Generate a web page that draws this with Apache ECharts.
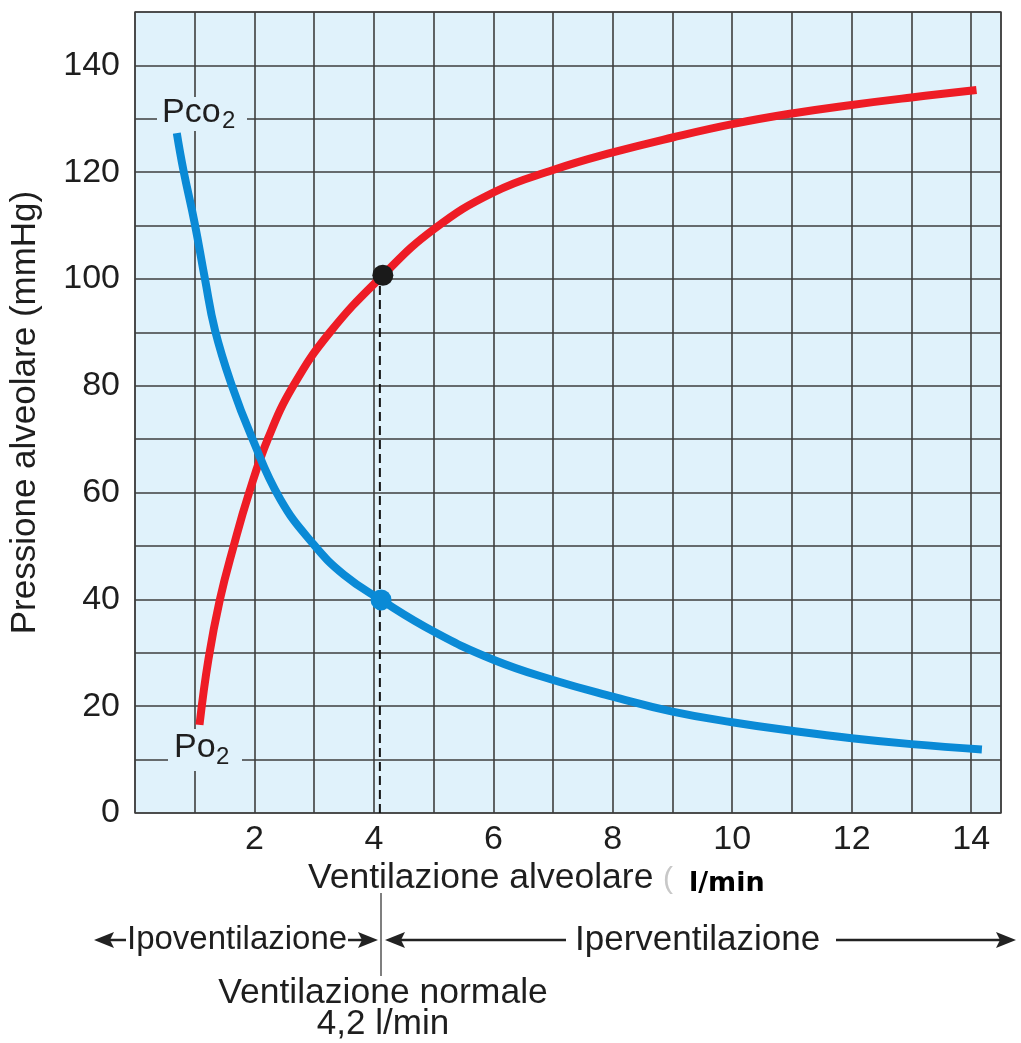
<!DOCTYPE html>
<html>
<head>
<meta charset="utf-8">
<script src="https://cdn.jsdelivr.net/npm/echarts@6/dist/echarts.min.js"></script>
<style>
  html, body { margin: 0; padding: 0; background: #fff; }
  #chart { width: 1021px; height: 1043px; }
</style>
</head>
<body>
<div id="chart"></div>
<script>
// ventilazione alveolare (l/min) -> Po2 (mmHg), curva rossa
const po2Vent = [1.08, 1.23, 1.42, 1.65, 1.90, 2.23, 2.65, 3.27, 4.15, 5.0, 6.0, 7.0, 8.0, 9.0, 10.0, 11.0, 12.0, 13.0, 14.09];
const po2Vals = [16.5, 28.8, 39.9, 49.9, 59.6, 70.2, 80.0, 90.1, 100.7, 109.3, 116.2, 120.4, 123.7, 126.5, 129.0, 131.0, 132.6, 134.0, 135.4];

// Pco2 (mmHg), curva blu
const pco2Vent = [0.70, 0.81, 1.00, 1.17, 1.34, 1.62, 1.95, 2.43, 2.99, 3.5, 4.12, 5.0, 6.0, 7.0, 8.0, 9.0, 10.0, 11.0, 12.0, 13.0, 14.18];
const pco2Vals = [127.3, 120.4, 110.4, 100.1, 90.4, 80.1, 70.5, 58.8, 50.3, 44.6, 39.9, 34.0, 28.7, 24.9, 21.8, 19.0, 17.0, 15.4, 14.0, 12.9, 11.9];

// ventilazione normale
const normalVent = [4.15, 4.12];
const normalPress = [100.7, 39.9];
const dashedVent = 4.1;

const xTickLabels = [2, 4, 6, 8, 10, 12, 14];
const yTickLabels = [0, 20, 40, 60, 80, 100, 120, 140];

const FONT = '"Liberation Sans", Arial, sans-serif';
const TXT = '#1e1e1e';
const BG = '#e0f2fb';

var myChart = echarts.init(document.getElementById('chart'));

const toPairs = (xs, ys) => xs.map((x, i) => [x, ys[i]]);

myChart.setOption({
  animation: false,
  grid: {
    left: 135, right: 20, top: 12, bottom: 230,
    show: true,
    backgroundColor: BG,
    borderColor: '#555',
    borderWidth: 1.5
  },
  xAxis: {
    type: 'value',
    min: 0, max: 14.5, interval: 1,
    axisLine: { show: false },
    axisTick: { show: false },
    splitLine: { show: true, lineStyle: { color: '#3e3e3e', width: 1.6 } },
    axisLabel: {
      margin: 10,
      fontFamily: FONT, fontSize: 34, color: TXT,
      formatter: v => xTickLabels.includes(v) ? String(v) : ''
    }
  },
  yAxis: {
    type: 'value',
    min: 0, max: 150, interval: 10,
    name: 'Pressione alveolare (mmHg)',
    nameLocation: 'middle',
    nameGap: 92,
    nameRotate: 90,
    nameTextStyle: { fontFamily: FONT, fontSize: 35, color: TXT },
    axisLine: { show: false },
    axisTick: { show: false },
    splitLine: { show: true, lineStyle: { color: '#3e3e3e', width: 1.6 } },
    axisLabel: {
      margin: 15,
      fontFamily: FONT, fontSize: 34, color: TXT,
      formatter: v => yTickLabels.includes(v) ? String(v) : ''
    }
  },
  series: [
    {
      type: 'line',
      data: [[dashedVent, 0], [dashedVent, normalPress[0]]],
      symbol: 'none',
      lineStyle: { color: '#111', width: 2, type: [9, 5] },
      z: 3
    },
    {
      name: 'Po2',
      type: 'line',
      data: toPairs(po2Vent, po2Vals),
      smooth: 0.45,
      symbol: 'none',
      lineStyle: { color: '#ee1c25', width: 8, cap: 'butt' },
      z: 4
    },
    {
      name: 'Pco2',
      type: 'line',
      data: toPairs(pco2Vent, pco2Vals),
      smooth: 0.45,
      symbol: 'none',
      lineStyle: { color: '#0a8ad6', width: 8, cap: 'butt' },
      z: 4
    },
    {
      type: 'scatter',
      data: [
        { value: [normalVent[0], normalPress[0]], itemStyle: { color: '#1a1a1a', opacity: 1 } },
        { value: [normalVent[1], normalPress[1]], itemStyle: { color: '#0a8ad6', opacity: 1 } }
      ],
      symbolSize: 21,
      z: 5
    }
  ],
  graphic: [
    // etichette delle curve
    { type: 'rect', shape: { x: 157, y: 97, width: 90, height: 34 }, style: { fill: BG }, z: 10 },
    { type: 'text', x: 162, y: 113, style: { text: 'Pco', font: '34px ' + FONT, fill: TXT, textVerticalAlign: 'middle' }, z: 11 },
    { type: 'text', x: 222, y: 121, style: { text: '2', font: '24px ' + FONT, fill: TXT, textVerticalAlign: 'middle' }, z: 11 },
    { type: 'rect', shape: { x: 168, y: 729, width: 74, height: 42 }, style: { fill: BG }, z: 10 },
    { type: 'text', x: 174, y: 748, style: { text: 'Po', font: '34px ' + FONT, fill: TXT, textVerticalAlign: 'middle' }, z: 11 },
    { type: 'text', x: 216, y: 757, style: { text: '2', font: '24px ' + FONT, fill: TXT, textVerticalAlign: 'middle' }, z: 11 },

    // titolo asse x
    { type: 'text', x: 308, y: 878, style: { text: 'Ventilazione alveolare', font: '35.5px ' + FONT, fill: TXT, textVerticalAlign: 'middle' } },
    { type: 'text', x: 663, y: 880, style: { text: '(', font: '30px ' + FONT, fill: '#c8c8c8', textVerticalAlign: 'middle' } },
    { type: 'text', x: 689, y: 884, style: { text: 'l/min', font: 'bold 27px "DejaVu Sans", sans-serif', fill: '#000', textVerticalAlign: 'middle' } },

    // separatore ventilazione normale
    { type: 'line', shape: { x1: 381, y1: 893, x2: 381, y2: 976 }, style: { stroke: '#555', lineWidth: 1.5 } },

    // ipoventilazione
    { type: 'line', shape: { x1: 100, y1: 940, x2: 126, y2: 940 }, style: { stroke: '#222', lineWidth: 2.5 } },
    { type: 'polygon', shape: { points: [[94, 940], [114, 932], [110, 940], [114, 948]] }, style: { fill: '#222' } },
    { type: 'text', x: 127, y: 940, style: { text: 'Ipoventilazione', font: '33px ' + FONT, fill: TXT, textVerticalAlign: 'middle' } },
    { type: 'line', shape: { x1: 348, y1: 940, x2: 372, y2: 940 }, style: { stroke: '#222', lineWidth: 2.5 } },
    { type: 'polygon', shape: { points: [[378, 940], [358, 932], [362, 940], [358, 948]] }, style: { fill: '#222' } },

    // iperventilazione
    { type: 'line', shape: { x1: 390, y1: 940, x2: 566, y2: 940 }, style: { stroke: '#222', lineWidth: 2.5 } },
    { type: 'polygon', shape: { points: [[385, 940], [405, 932], [401, 940], [405, 948]] }, style: { fill: '#222' } },
    { type: 'text', x: 575, y: 940, style: { text: 'Iperventilazione', font: '35px ' + FONT, fill: TXT, textVerticalAlign: 'middle' } },
    { type: 'line', shape: { x1: 836, y1: 940, x2: 1010, y2: 940 }, style: { stroke: '#222', lineWidth: 2.5 } },
    { type: 'polygon', shape: { points: [[1016, 940], [996, 932], [1000, 940], [996, 948]] }, style: { fill: '#222' } },

    { type: 'text', x: 383, y: 993, style: { text: 'Ventilazione normale', font: '35.5px ' + FONT, fill: TXT, textAlign: 'center', textVerticalAlign: 'middle' } },
    { type: 'text', x: 383, y: 1024, style: { text: '4,2 l/min', font: '35px ' + FONT, fill: TXT, textAlign: 'center', textVerticalAlign: 'middle' } }
  ]
});

window.addEventListener('resize', function () {
  myChart.resize();
});
</script>
</body>
</html>
